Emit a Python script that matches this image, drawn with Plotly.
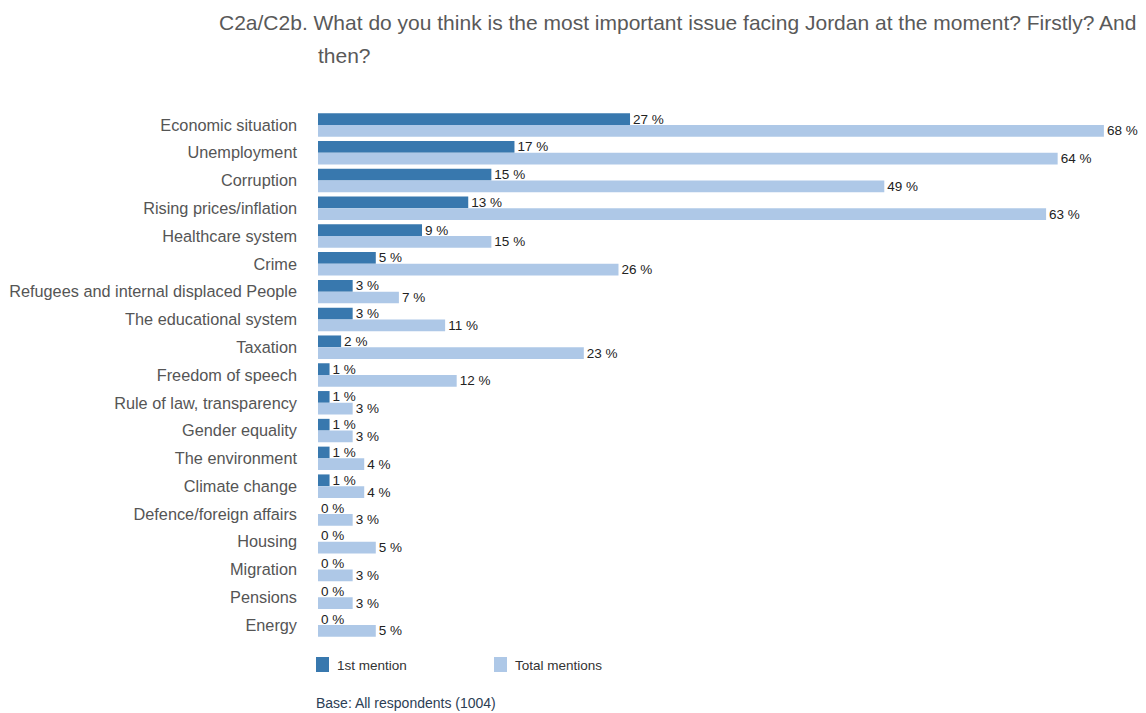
import plotly.graph_objects as go

# Survey results: most important issue facing Jordan
issues = [
    "Economic situation", "Unemployment", "Corruption", "Rising prices/inflation",
    "Healthcare system", "Crime", "Refugees and internal displaced People",
    "The educational system", "Taxation", "Freedom of speech",
    "Rule of law, transparency", "Gender equality", "The environment",
    "Climate change", "Defence/foreign affairs", "Housing", "Migration",
    "Pensions", "Energy",
]
first_mention = [27, 17, 15, 13, 9, 5, 3, 3, 2, 1, 1, 1, 1, 1, 0, 0, 0, 0, 0]
total_mentions = [68, 64, 49, 63, 15, 26, 7, 11, 23, 12, 3, 3, 4, 4, 3, 5, 3, 3, 5]

DARK = "#3878ae"
LIGHT = "#aec8e7"
FONT = "Liberation Sans, Arial, sans-serif"

W, H = 1146, 713
L, R, T, B = 318, 19, 111, 74
PW, PH = W - L - R, H - T - B


def px_x(px):
    return (px - L) / PW


def px_y(py):
    return 1 - (py - T) / PH


fig = go.Figure()
for name, vals, col in [("1st mention", first_mention, DARK),
                        ("Total mentions", total_mentions, LIGHT)]:
    fig.add_trace(go.Bar(
        name=name, y=issues, x=vals, orientation="h",
        marker=dict(color=col, line=dict(width=0)),
        texttemplate="%{x} %", textposition="outside",
        textfont=dict(family=FONT, size=13.5, color="#222222"),
        cliponaxis=False, showlegend=False,
    ))

fig.update_layout(
    width=W, height=H,
    margin=dict(l=L, r=R, t=T, b=B, autoexpand=False),
    paper_bgcolor="white", plot_bgcolor="white",
    barmode="group", bargap=0.155, bargroupgap=0,
    uniformtext=dict(mode=False),
    font=dict(family=FONT),
)
fig.update_traces(constraintext="none")
fig.update_xaxes(range=[0, 70], showgrid=False, zeroline=False,
                 showticklabels=False, showline=False, automargin=False)
fig.update_yaxes(categoryorder="array", categoryarray=issues,
                 autorange="reversed", showgrid=False, zeroline=False,
                 showline=False, ticklabelstandoff=20, automargin=False,
                 tickfont=dict(family=FONT, size=16.3, color="#555555"))

annotations = [
    dict(text="C2a/C2b. What do you think is the most important issue facing Jordan at the moment? Firstly? And",
         x=px_x(217), y=px_y(22), xanchor="left", yanchor="middle",
         font=dict(size=21, color="#595959")),
    dict(text="then?", x=px_x(316), y=px_y(56), xanchor="left", yanchor="middle",
         font=dict(size=21, color="#595959")),
    dict(text="1st mention", x=px_x(335), y=px_y(665), xanchor="left", yanchor="middle",
         font=dict(size=13.5, color="#333333")),
    dict(text="Total mentions", x=px_x(513), y=px_y(665), xanchor="left", yanchor="middle",
         font=dict(size=13.5, color="#333333")),
    dict(text="Base: All respondents (1004)", x=px_x(314), y=px_y(703),
         xanchor="left", yanchor="middle",
         font=dict(size=14, color="#2c3e55")),
]
for a in annotations:
    a.update(xref="paper", yref="paper", showarrow=False)
    a["font"]["family"] = FONT
fig.update_layout(annotations=annotations)

# legend swatches
for x0, col in [(316, DARK), (494, LIGHT)]:
    fig.add_shape(type="rect", xref="paper", yref="paper",
                  x0=px_x(x0), x1=px_x(x0 + 13), y0=px_y(672), y1=px_y(657),
                  fillcolor=col, line=dict(width=0))

fig.write_html("out.html")
